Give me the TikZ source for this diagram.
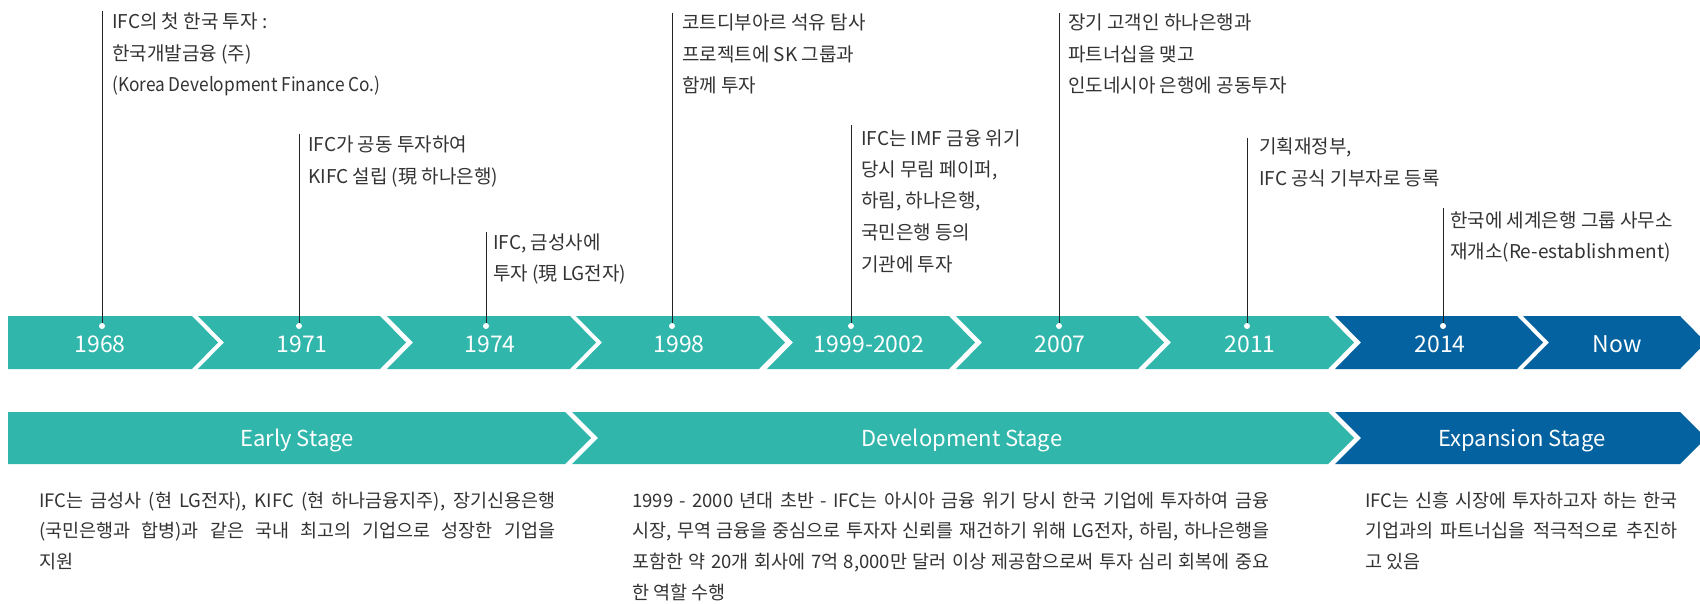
\documentclass[tikz,border=0pt]{standalone}
\usepackage{fontspec}
\setmainfont{Noto Sans CJK KR}
\newfontfamily\narrowlatin{Noto Sans CJK KR}[FakeStretch=0.91]
\definecolor{segteal}{HTML}{30B6AA}
\definecolor{segblue}{HTML}{03629F}
\definecolor{txtgray}{HTML}{333333}
\definecolor{linegray}{HTML}{222222}
\newcommand\segF[5]{\fill[#5] (#1,#3) -- (#2,#3) -- ({#2+26},{(#3+#4)/2}) -- (#2,#4) -- (#1,#4) -- cycle;}
\newcommand\segN[5]{\fill[#5] (#1,#3) -- (#2,#3) -- ({#2+26},{(#3+#4)/2}) -- (#2,#4) -- (#1,#4) -- ({#1+26},{(#3+#4)/2}) -- cycle;}
\begin{document}
\begin{tikzpicture}[x=1pt,y=-1pt,
  yearlbl/.style={text=white,font=\fontsize{23}{26}\selectfont,inner sep=0},
  stagelbl/.style={text=white,font=\fontsize{22}{26}\selectfont,inner sep=0},
  evtxt/.style={text=txtgray,font=\fontsize{19}{31.5}\selectfont,align=left,inner sep=0,anchor=base west},
  desctxt/.style={text=txtgray,font=\fontsize{18.5}{30.7}\selectfont,align=left,inner sep=0,anchor=base west},
  dot/.style={circle,fill=white,inner sep=0,minimum size=6pt},
  conn/.style={draw=linegray,line width=1pt}]
\clip (0,0) rectangle (1700,604);
\fill[white] (0,0) rectangle (1700,604);
% top timeline bar
\segF{8}{192}{316}{369}{segteal}
\segN{198}{380}{316}{369}{segteal}
\segN{387}{570}{316}{369}{segteal}
\segN{576}{759}{316}{369}{segteal}
\segN{767}{949}{316}{369}{segteal}
\segN{956}{1138}{316}{369}{segteal}
\segN{1145}{1328}{316}{369}{segteal}
\segN{1335}{1517}{316}{369}{segblue}
\segN{1523}{1680}{316}{369}{segblue}
% stage bar
\segF{8}{565}{412}{464}{segteal}
\segN{572}{1328}{412}{464}{segteal}
\segN{1335}{1680}{412}{464}{segblue}
% year labels
\node[yearlbl] (y1968) at (100,344) {1968};
\node[yearlbl] (y1971) at (302,344) {1971};
\node[yearlbl] (y1974) at (490,344) {1974};
\node[yearlbl] (y1998) at (679,344) {1998};
\node[yearlbl] (y1999) at (869,344) {1999-2002};
\node[yearlbl] (y2007) at (1060,344) {2007};
\node[yearlbl] (y2011) at (1250,344) {2011};
\node[yearlbl] (y2014) at (1440,344) {2014};
\node[yearlbl] (ynow) at (1617,344) {Now};
% stage labels
\node[stagelbl] (sEarly) at (297,440.5) {Early Stage};
\node[stagelbl] (sDev) at (962,440.5) {Development Stage};
\node[stagelbl] (sExp) at (1522,440.5) {Expansion Stage};
% dots
\node[dot] (d1968) at (102,326) {};
\node[dot] (d1971) at (299,326) {};
\node[dot] (d1974) at (486,326) {};
\node[dot] (d1998) at (672,326) {};
\node[dot] (d1999) at (851,326) {};
\node[dot] (d2007) at (1059,326) {};
\node[dot] (d2011) at (1247,326) {};
\node[dot] (d2014) at (1443,326) {};
% line tops
\coordinate (t1968) at (102,11);
\coordinate (t1971) at (299,134);
\coordinate (t1974) at (486,232);
\coordinate (t1998) at (672,13);
\coordinate (t1999) at (851,125);
\coordinate (t2007) at (1059,13);
\coordinate (t2011) at (1247,138);
\coordinate (t2014) at (1443,208);
\foreach \n in {1968,1971,1974,1998,1999,2007,2011,2014}{\draw[conn] (t\n) -- (d\n.north);}
% event texts (anchor = baseline of last line)
\node[evtxt] (e1968) at (112,92) {IFC의 첫 한국 투자 :\\한국개발금융 (주)\\{\narrowlatin (Korea Development Finance Co.)}};
\node[evtxt] (e1971) at (308,183.5) {IFC가 공동 투자하여\\KIFC 설립 (現 하나은행)};
\node[evtxt] (e1974) at (493,280.5) {IFC, 금성사에\\투자 (現 LG전자)};
\node[evtxt] (e1998) at (682,93) {코트디부아르 석유 탐사\\프로젝트에 SK 그룹과\\함께 투자};
\node[evtxt] (e1999) at (861,271) {IFC는 IMF 금융 위기\\당시 무림 페이퍼,\\하림, 하나은행,\\국민은행 등의\\기관에 투자};
\node[evtxt] (e2007) at (1068,93) {장기 고객인 하나은행과\\파트너십을 맺고\\인도네시아 은행에 공동투자};
\node[evtxt] (e2011) at (1259,185.5) {기획재정부,\\IFC 공식 기부자로 등록};
\node[evtxt] (e2014) at (1450,258.5) {한국에 세계은행 그룹 사무소\\재개소(Re-establishment)};
% stage descriptions
\node[desctxt] (dEarly) at (39,568.4) {\makebox[516pt][s]{IFC는 금성사 (현 LG전자), KIFC (현 하나금융지주), 장기신용은행}\\\makebox[516pt][s]{(국민은행과 합병)과 같은 국내 최고의 기업으로 성장한 기업을}\\지원};
\node[desctxt] (dDev) at (632,599.1) {\makebox[637pt][s]{1999 - 2000 년대 초반 - IFC는 아시아 금융 위기 당시 한국 기업에 투자하여 금융}\\\makebox[637pt][s]{시장, 무역 금융을 중심으로 투자자 신뢰를 재건하기 위해 LG전자, 하림, 하나은행을}\\\makebox[637pt][s]{포함한 약 20개 회사에 7억 8,000만 달러 이상 제공함으로써 투자 심리 회복에 중요}\\한 역할 수행};
\node[desctxt] (dExp) at (1365,568.4) {\makebox[312pt][s]{IFC는 신흥 시장에 투자하고자 하는 한국}\\\makebox[312pt][s]{기업과의 파트너십을 적극적으로 추진하}\\고 있음};
\end{tikzpicture}
\end{document}
